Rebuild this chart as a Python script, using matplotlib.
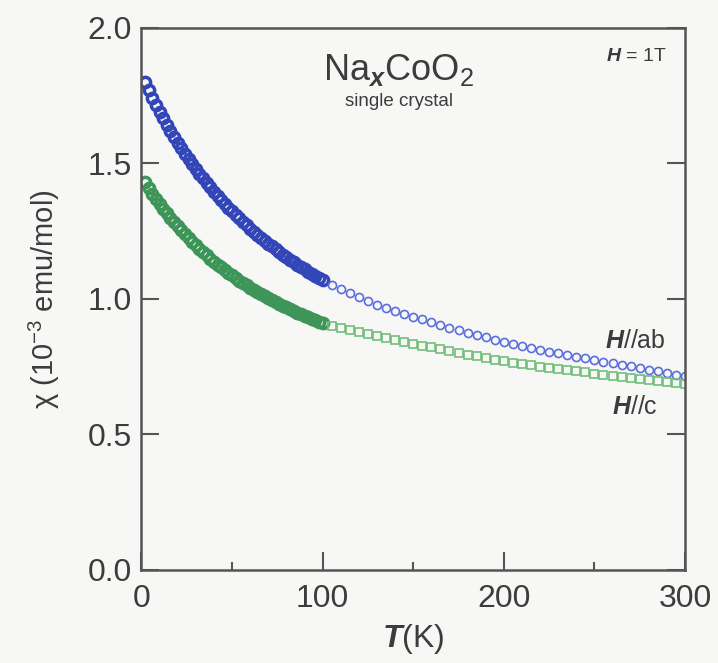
import matplotlib
matplotlib.use("Agg")
import matplotlib.pyplot as plt
from matplotlib.ticker import MultipleLocator

plt.rcParams['font.family'] = ['Liberation Sans', 'DejaVu Sans']
plt.rcParams['mathtext.fontset'] = 'custom'
plt.rcParams['mathtext.rm'] = 'Liberation Sans'
plt.rcParams['mathtext.it'] = 'Liberation Sans:italic'
plt.rcParams['mathtext.bf'] = 'Liberation Sans:bold'
plt.rcParams['mathtext.bfit'] = 'Liberation Sans:italic:bold'

# ---- susceptibility data, chi in 1e-3 emu/mol ----
# dense low-temperature sweep (2-100 K)
t_dense = [2, 4, 6, 8, 10, 12, 14, 16, 18, 20, 22, 24, 26, 28, 30, 32, 34, 36, 38, 40,
           42, 44, 46, 48, 50, 52, 54, 56, 58, 60, 62, 64, 66, 68, 70, 72, 74, 76, 78, 80,
           82, 84, 86, 88, 90, 92, 94, 96, 98, 100]
chi_ab_dense = [1.799, 1.771, 1.743, 1.717, 1.691, 1.667, 1.643, 1.620, 1.598, 1.577,
                1.556, 1.536, 1.517, 1.498, 1.480, 1.462, 1.445, 1.428, 1.412, 1.396,
                1.381, 1.366, 1.352, 1.337, 1.324, 1.310, 1.297, 1.285, 1.272, 1.260,
                1.249, 1.237, 1.226, 1.215, 1.204, 1.194, 1.184, 1.174, 1.164, 1.154,
                1.145, 1.136, 1.127, 1.118, 1.110, 1.101, 1.093, 1.085, 1.077, 1.070]
chi_c_dense = [1.430, 1.409, 1.389, 1.370, 1.351, 1.333, 1.316, 1.299, 1.283, 1.268,
               1.253, 1.238, 1.224, 1.211, 1.198, 1.185, 1.173, 1.161, 1.149, 1.138,
               1.127, 1.117, 1.107, 1.097, 1.087, 1.078, 1.068, 1.060, 1.051, 1.042,
               1.034, 1.026, 1.018, 1.011, 1.003, 0.996, 0.989, 0.982, 0.975, 0.969,
               0.962, 0.956, 0.950, 0.944, 0.938, 0.932, 0.926, 0.921, 0.915, 0.910]

# high-temperature sweep (105-300 K)
t_sparse = [105, 110, 115, 120, 125, 130, 135, 140, 145, 150, 155, 160, 165, 170, 175,
            180, 185, 190, 195, 200, 205, 210, 215, 220, 225, 230, 235, 240, 245, 250,
            255, 260, 265, 270, 275, 280, 285, 290, 295, 300]
chi_ab_sparse = [1.052, 1.036, 1.021, 1.006, 0.992, 0.979, 0.967, 0.956, 0.945, 0.935,
                 0.925, 0.914, 0.904, 0.894, 0.885, 0.876, 0.867, 0.858, 0.849, 0.841,
                 0.834, 0.827, 0.820, 0.813, 0.806, 0.800, 0.794, 0.787, 0.781, 0.775,
                 0.769, 0.763, 0.757, 0.751, 0.745, 0.739, 0.733, 0.727, 0.721, 0.715]
chi_c_sparse = [0.901, 0.893, 0.885, 0.877, 0.870, 0.863, 0.856, 0.849, 0.842, 0.835,
                0.828, 0.821, 0.814, 0.807, 0.800, 0.794, 0.788, 0.782, 0.776, 0.770,
                0.765, 0.760, 0.755, 0.750, 0.745, 0.741, 0.737, 0.733, 0.729, 0.725,
                0.721, 0.717, 0.713, 0.709, 0.705, 0.701, 0.697, 0.693, 0.689, 0.685]

x_ticks = [0, 100, 200, 300]
y_ticks = [0.0, 0.5, 1.0, 1.5, 2.0]

BLUE_D, BLUE_S = '#3246b8', '#5a6fdc'
GREEN_D, GREEN_S = '#3d9558', '#72be7c'
INK = '#3c3c3c'
BG = '#f7f7f6'

fig = plt.figure(figsize=(7.18, 6.63), dpi=100, facecolor=BG)
ax = fig.add_axes([0.197, 0.1403, 0.757, 0.8175], facecolor=BG)

ax.plot(t_dense, chi_ab_dense, ls='none', marker='o', ms=7.4, mfc='none',
        mec=BLUE_D, mew=2.5)
ax.plot(t_sparse, chi_ab_sparse, ls='none', marker='o', ms=5.8, mfc='none',
        mec=BLUE_S, mew=1.2)
ax.plot(t_dense, chi_c_dense, ls='none', marker='o', ms=7.4, mfc='none',
        mec=GREEN_D, mew=2.5)
ax.plot(t_sparse, chi_c_sparse, ls='none', marker='s', ms=5.4, mfc='none',
        mec=GREEN_S, mew=1.2)

ax.set_xlim(0, 300)
ax.set_ylim(0, 2.0)
ax.set_xticks(x_ticks)
ax.set_yticks(y_ticks)
ax.set_yticklabels([f'{v:.1f}' for v in y_ticks])
ax.xaxis.set_minor_locator(MultipleLocator(50))

for s in ['left', 'bottom', 'right', 'top']:
    ax.spines[s].set_color('#555555')
    ax.spines[s].set_linewidth(1.8)

ax.tick_params(axis='both', which='major', direction='in', length=13, width=1.5,
               color='#555555', labelsize=23, labelcolor=INK, pad=7)
ax.tick_params(axis='x', which='major', pad=10)
ax.tick_params(axis='x', which='minor', direction='in', length=6, width=1.5,
               color='#555555')
ax.tick_params(axis='y', which='both', right=True)
ax.tick_params(axis='x', which='both', top=False)

ax.set_xlabel(r'$\mathbfit{T}$(K)', fontsize=23, color=INK, labelpad=6)
ax.set_ylabel(r'χ (10$^{-3}$ emu/mol)', fontsize=21, color=INK, labelpad=18)

ax.text(142, 1.845, r'Na$_{\mathbfit{x}}$CoO$_2$', fontsize=26, color=INK,
        ha='center', va='center')
ax.text(142, 1.730, 'single crystal', fontsize=13.5, color=INK,
        ha='center', va='center')
ax.text(290, 1.893, r'$\mathbfit{H}$ = 1T', fontsize=14, color=INK,
        ha='right', va='center')
ax.text(289.5, 0.845, r'$\mathbfit{H}$//ab', fontsize=18, color=INK,
        ha='right', va='center')
ax.text(285, 0.60, r'$\mathbfit{H}$//c', fontsize=18, color=INK,
        ha='right', va='center')

fig.savefig('out.png', dpi=100, facecolor=BG)
